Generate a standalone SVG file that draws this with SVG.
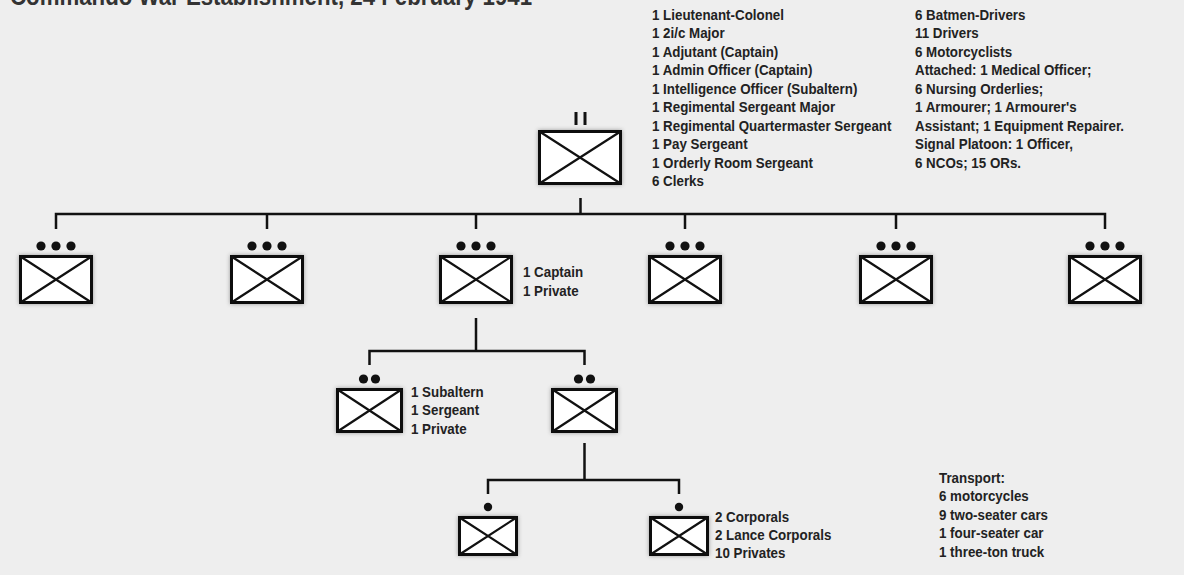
<svg xmlns="http://www.w3.org/2000/svg" width="1184" height="575" viewBox="0 0 1184 575">
<defs>
<filter id="sh" x="-20%" y="-20%" width="140%" height="140%">
<feDropShadow dx="0" dy="0" stdDeviation="2" flood-color="#000" flood-opacity="0.35"/>
</filter>
</defs>
<style>
.bg{fill:#eeeeee}
.t{font-family:"Liberation Sans",Arial,sans-serif;font-weight:bold;font-size:15px;fill:#222}
.title{font-family:"Liberation Sans",Arial,sans-serif;font-weight:bold;font-size:25px;fill:#333}
.box{fill:#fff;stroke:#111;stroke-width:3;filter:url(#sh)}
.x{stroke:#111;stroke-width:2.2;fill:none}
.c{stroke:#111;stroke-width:2.5;fill:none;stroke-linejoin:miter;stroke-linecap:butt}
.dot{fill:#111}
.bar{stroke:#111;stroke-width:3}
</style>
<rect class="bg" x="0" y="0" width="1184" height="575"/>
<g transform="translate(10,0) scale(0.89,1)">
<text class="title" x="0" y="5">Commando War Establishment, 24 February 1941</text>
</g>

<g id="connectors">
<path class="c" d="M580.5 198 V214"/>
<path class="c" d="M56 229 V214 H1105 V229"/>
<path class="c" d="M267 214 V229 M476 214 V229 M685 214 V229 M896 214 V229"/>
<path class="c" d="M476 318 V351"/>
<path class="c" d="M369.5 365 V351 H584.5 V365"/>
<path class="c" d="M584.5 443 V480"/>
<path class="c" d="M488 494 V480 H679 V494"/>
</g>

<g id="hq">
<line class="bar" x1="576" y1="112" x2="576" y2="125"/>
<line class="bar" x1="585" y1="112" x2="585" y2="125"/>
<rect class="box" x="539.5" y="131.5" width="81" height="52"/>
<path class="x" d="M539.5 131.5 L620.5 183.5 M620.5 131.5 L539.5 183.5"/>
<g class="t" transform="translate(652,0) scale(0.89,1)">
<text x="0" y="20">1 Lieutenant-Colonel</text>
<text x="0" y="38.5">1 2i/c Major</text>
<text x="0" y="57">1 Adjutant (Captain)</text>
<text x="0" y="75.5">1 Admin Officer (Captain)</text>
<text x="0" y="94">1 Intelligence Officer (Subaltern)</text>
<text x="0" y="112.5">1 Regimental Sergeant Major</text>
<text x="0" y="131">1 Regimental Quartermaster Sergeant</text>
<text x="0" y="149.5">1 Pay Sergeant</text>
<text x="0" y="168">1 Orderly Room Sergeant</text>
<text x="0" y="186.5">6 Clerks</text>
</g>
<g class="t" transform="translate(915,0) scale(0.89,1)">
<text x="0" y="20">6 Batmen-Drivers</text>
<text x="0" y="38.5">11 Drivers</text>
<text x="0" y="57">6 Motorcyclists</text>
<text x="0" y="75.5">Attached: 1 Medical Officer;</text>
<text x="0" y="94">6 Nursing Orderlies;</text>
<text x="0" y="112.5">1 Armourer; 1 Armourer's</text>
<text x="0" y="131">Assistant; 1 Equipment Repairer.</text>
<text x="0" y="149.5">Signal Platoon: 1 Officer,</text>
<text x="0" y="168">6 NCOs; 15 ORs.</text>
</g>
</g>

<g id="troop1">
<circle class="dot" cx="41" cy="246" r="4.6"/><circle class="dot" cx="56" cy="246" r="4.6"/><circle class="dot" cx="71" cy="246" r="4.6"/>
<rect class="box" x="20.5" y="256.5" width="71" height="46"/>
<path class="x" d="M20.5 256.5 L91.5 302.5 M91.5 256.5 L20.5 302.5"/>
</g>
<g id="troop2">
<circle class="dot" cx="252" cy="246" r="4.6"/><circle class="dot" cx="267" cy="246" r="4.6"/><circle class="dot" cx="282" cy="246" r="4.6"/>
<rect class="box" x="231.5" y="256.5" width="71" height="46"/>
<path class="x" d="M231.5 256.5 L302.5 302.5 M302.5 256.5 L231.5 302.5"/>
</g>
<g id="troop3">
<circle class="dot" cx="461" cy="246" r="4.6"/><circle class="dot" cx="476" cy="246" r="4.6"/><circle class="dot" cx="491" cy="246" r="4.6"/>
<rect class="box" x="440.5" y="256.5" width="71" height="46"/>
<path class="x" d="M440.5 256.5 L511.5 302.5 M511.5 256.5 L440.5 302.5"/>
<g class="t" transform="translate(523,0) scale(0.89,1)">
<text x="0" y="277">1 Captain</text>
<text x="0" y="296">1 Private</text>
</g>
</g>
<g id="troop4">
<circle class="dot" cx="670" cy="246" r="4.6"/><circle class="dot" cx="685" cy="246" r="4.6"/><circle class="dot" cx="700" cy="246" r="4.6"/>
<rect class="box" x="649.5" y="256.5" width="71" height="46"/>
<path class="x" d="M649.5 256.5 L720.5 302.5 M720.5 256.5 L649.5 302.5"/>
</g>
<g id="troop5">
<circle class="dot" cx="881" cy="246" r="4.6"/><circle class="dot" cx="896" cy="246" r="4.6"/><circle class="dot" cx="911" cy="246" r="4.6"/>
<rect class="box" x="860.5" y="256.5" width="71" height="46"/>
<path class="x" d="M860.5 256.5 L931.5 302.5 M931.5 256.5 L860.5 302.5"/>
</g>
<g id="troop6">
<circle class="dot" cx="1090" cy="246" r="4.6"/><circle class="dot" cx="1105" cy="246" r="4.6"/><circle class="dot" cx="1120" cy="246" r="4.6"/>
<rect class="box" x="1069.5" y="256.5" width="71" height="46"/>
<path class="x" d="M1069.5 256.5 L1140.5 302.5 M1140.5 256.5 L1069.5 302.5"/>
</g>

<g id="section1">
<circle class="dot" cx="363.5" cy="379" r="4.6"/><circle class="dot" cx="375.5" cy="379" r="4.6"/>
<rect class="box" x="337.5" y="389.5" width="64" height="42"/>
<path class="x" d="M337.5 389.5 L401.5 431.5 M401.5 389.5 L337.5 431.5"/>
<g class="t" transform="translate(411,0) scale(0.89,1)">
<text x="0" y="397">1 Subaltern</text>
<text x="0" y="415.5">1 Sergeant</text>
<text x="0" y="434">1 Private</text>
</g>
</g>
<g id="section2">
<circle class="dot" cx="578.5" cy="379" r="4.6"/><circle class="dot" cx="590.5" cy="379" r="4.6"/>
<rect class="box" x="552.5" y="389.5" width="64" height="42"/>
<path class="x" d="M552.5 389.5 L616.5 431.5 M616.5 389.5 L552.5 431.5"/>
</g>

<g id="subsection1">
<circle class="dot" cx="488" cy="507" r="4.2"/>
<rect class="box" x="459.5" y="517.5" width="57" height="37"/>
<path class="x" d="M459.5 517.5 L516.5 554.5 M516.5 517.5 L459.5 554.5"/>
</g>
<g id="subsection2">
<circle class="dot" cx="679" cy="507" r="4.2"/>
<rect class="box" x="650.5" y="517.5" width="57" height="37"/>
<path class="x" d="M650.5 517.5 L707.5 554.5 M707.5 517.5 L650.5 554.5"/>
<g class="t" transform="translate(715,0) scale(0.89,1)">
<text x="0" y="522">2 Corporals</text>
<text x="0" y="540">2 Lance Corporals</text>
<text x="0" y="558">10 Privates</text>
</g>
</g>

<g id="transport" class="t" transform="translate(939,0) scale(0.89,1)">
<text x="0" y="483">Transport:</text>
<text x="0" y="501.5">6 motorcycles</text>
<text x="0" y="520">9 two-seater cars</text>
<text x="0" y="538.5">1 four-seater car</text>
<text x="0" y="557">1 three-ton truck</text>
</g>
</svg>
